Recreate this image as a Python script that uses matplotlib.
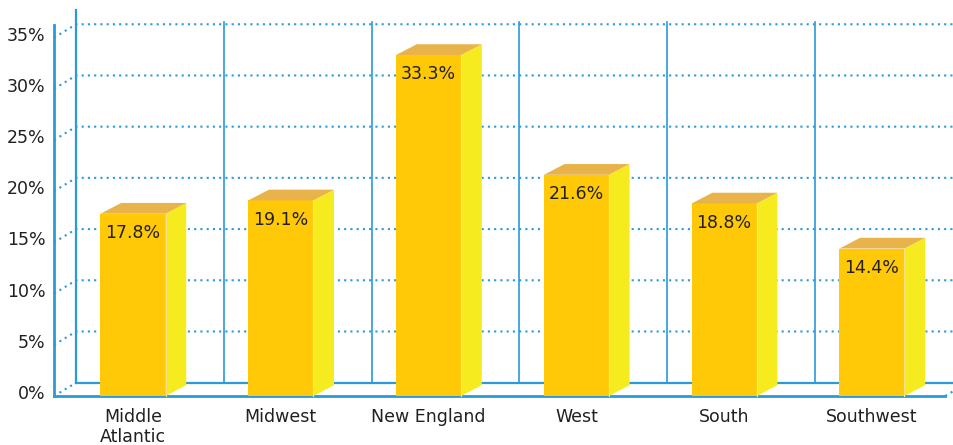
import numpy as np
import matplotlib.pyplot as plt
from matplotlib.patches import Polygon
from matplotlib.transforms import ScaledTranslation

# Share by region (%)
regions = ['Middle\nAtlantic', 'Midwest', 'New England', 'West', 'South', 'Southwest']
shares = [17.8, 19.1, 33.3, 21.6, 18.8, 14.4]
y_ticks = [0, 5, 10, 15, 20, 25, 30, 35]

blue = '#2A9AD8'
front_col = '#FFC907'
side_col = '#F5EB1E'
top_col = '#E9B34B'
text_col = '#231F20'

# fake 3d: back wall offset and bar depth (data units)
wall_dx, wall_dy = 0.149, 1.3
bar_w = 0.44
bar_dx, bar_dy = 0.14, 1.05

n = len(regions)
x = np.arange(n)
x_left = -0.534
x_right = x_left + n

fig = plt.figure(figsize=(9.54, 4.45), dpi=100)
ax = fig.add_axes([0, 0, 1, 1])
ax.set_xlim(-0.9, 5.555)
ax.set_ylim(-4.785, 38.67)

# back wall
bx0 = x_left + wall_dx
ax.plot([bx0, bx0], [wall_dy, 37.7], color=blue, lw=1.6, zorder=1)
ax.plot([bx0, x_right + 1], [wall_dy, wall_dy], color=blue, lw=1.6, zorder=1)
for k in range(1, n):
    xs = x_left + k + wall_dx
    ax.plot([xs, xs], [wall_dy, 35 + wall_dy + 0.2], color=blue, lw=1.2, zorder=1)

dots = (0, (1, 2))
for t in y_ticks:
    if t == 0:
        ax.plot([x_left, bx0], [0, wall_dy], color=blue, lw=1.5, ls=dots, zorder=1)
    else:
        ax.plot([x_left, bx0, x_right + 1], [t, t + wall_dy, t + wall_dy],
                color=blue, lw=1.5, ls=dots, zorder=1)
ax.plot([x_right + 0.03, x_right + 0.03 + wall_dx], [0, wall_dy],
        color=blue, lw=1.5, ls=dots, zorder=1)

# front axes
for side in ['top', 'right']:
    ax.spines[side].set_visible(False)
ax.spines['left'].set_position(('data', x_left))
ax.spines['left'].set_bounds(0, 36.2)
ax.spines['bottom'].set_position(('data', 0))
ax.spines['bottom'].set_bounds(x_left, x_right + 0.03)
for side in ['left', 'bottom']:
    ax.spines[side].set_color(blue)
    ax.spines[side].set_linewidth(2)
    ax.spines[side].set_zorder(2)

ax.set_yticks(y_ticks)
ax.set_yticklabels([f'{t}%' for t in y_ticks])
ax.set_xticks(x)
ax.set_xticklabels(regions)
ax.tick_params(axis='y', length=0, pad=6, labelsize=12.5, labelcolor=text_col)
ax.tick_params(axis='x', length=0, pad=9, labelsize=12.5, labelcolor=text_col)
shift = ScaledTranslation(0, 4 / 100, fig.dpi_scale_trans)
for lbl in ax.get_yticklabels():
    lbl.set_transform(lbl.get_transform() + shift)
for lbl in ax.get_xticklabels():
    lbl.set_linespacing(1.1)

# bars
ax.bar(x, shares, width=bar_w, color=front_col, zorder=3)
for xi, v in zip(x, shares):
    r = xi + bar_w / 2
    l = xi - bar_w / 2
    ax.add_patch(Polygon([(r, 0), (r + bar_dx, bar_dy), (r + bar_dx, v + bar_dy), (r, v)],
                         closed=True, facecolor=side_col, edgecolor='none', zorder=3))
    ax.add_patch(Polygon([(l, v), (r, v), (r + bar_dx, v + bar_dy), (l + bar_dx, v + bar_dy)],
                         closed=True, facecolor=top_col, edgecolor='none', zorder=3))
    ax.plot([r, r], [0, v], color='#FBE38A', lw=0.8, zorder=4)
    ax.text(xi, v - 1.9, f'{v}%', ha='center', va='center', fontsize=12.5,
            color=text_col, zorder=5)

plt.savefig('out.png', dpi=100)
